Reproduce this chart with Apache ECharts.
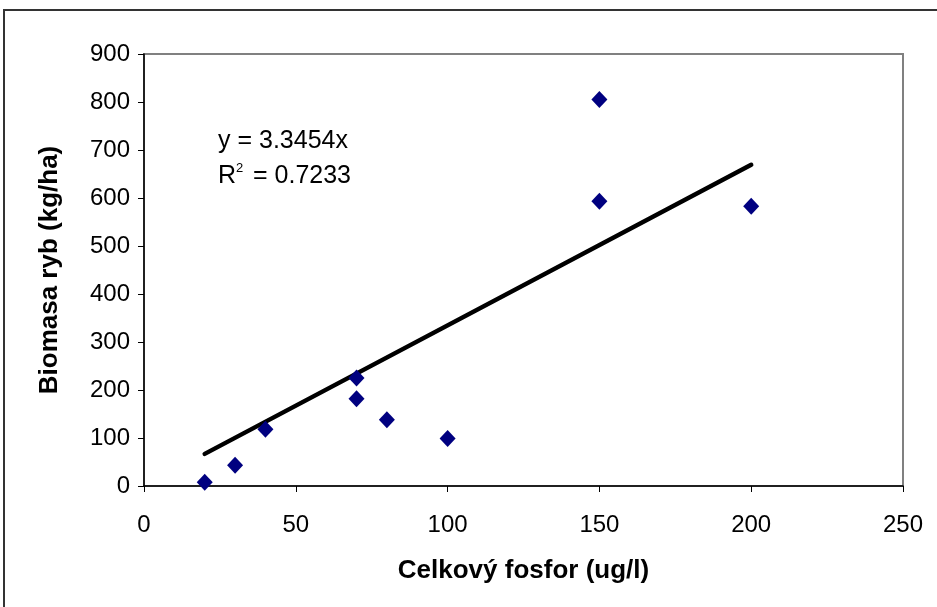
<!DOCTYPE html>
<html>
<head>
<meta charset="utf-8">
<script src="https://cdn.jsdelivr.net/npm/echarts@6/dist/echarts.min.js"></script>
<style>
html,body{margin:0;padding:0;background:#fff;}
#c{width:937px;height:607px;}
</style>
</head>
<body>
<div id="c"></div>
<script>
const xValues = [20, 30, 40, 70, 70, 80, 100, 150, 150, 200];
const yValues = [8, 43, 118, 225, 182, 138, 99, 805, 593, 583];
const trendSlope = 3.3454;
const trendRange = [20, 200];
const equationLine1 = 'y = 3.3454x';
const r2Base = 'R';
const r2Sup = '2';
const r2Value = '= 0.7233';
const xAxisName = 'Celkový fosfor (ug/l)';
const yAxisName = 'Biomasa ryb (kg/ha)';

const points = xValues.map((x, i) => [x, yValues[i]]);
const trend = trendRange.map(x => [x, trendSlope * x]);

const chart = echarts.init(document.getElementById('c'));
const font = 'Liberation Sans, Arial, sans-serif';
chart.setOption({
  animation: false,
  backgroundColor: '#fff',
  grid: {left: 144, top: 54, right: 34, bottom: 121, show: true, borderColor: '#808080', borderWidth: 2, backgroundColor: 'transparent'},
  xAxis: {
    type: 'value', min: 0, max: 250, interval: 50,
    name: xAxisName, nameLocation: 'middle', nameGap: 72,
    nameTextStyle: {fontFamily: font, fontSize: 26, fontWeight: 'bold', color: '#000'},
    axisLine: {show: true, lineStyle: {color: '#000', width: 1.5}},
    axisTick: {show: true, length: 6, lineStyle: {color: '#000'}},
    axisLabel: {fontFamily: font, fontSize: 24, color: '#000', margin: 27},
    splitLine: {show: false}
  },
  yAxis: {
    type: 'value', min: 0, max: 900, interval: 100,
    name: yAxisName, nameLocation: 'middle', nameGap: 81, nameRotate: 90,
    nameTextStyle: {fontFamily: font, fontSize: 26, fontWeight: 'bold', color: '#000'},
    axisLine: {show: true, lineStyle: {color: '#000', width: 1.5}},
    axisTick: {show: true, length: 6, lineStyle: {color: '#000'}},
    axisLabel: {fontFamily: font, fontSize: 24, color: '#000', margin: 14},
    splitLine: {show: false}
  },
  graphic: [
    {type: 'rect', shape: {x: 4, y: 10, width: 940, height: 620}, style: {fill: 'none', stroke: '#333', lineWidth: 2}, z: 100, silent: true},
    {type: 'text', x: 218, y: 141, style: {text: equationLine1, fontFamily: font, fontSize: 25, fill: '#000', verticalAlign: 'middle'}, z: 50},
    {type: 'text', x: 218, y: 176, style: {text: r2Base, fontFamily: font, fontSize: 25, fill: '#000', verticalAlign: 'middle'}, z: 50},
    {type: 'text', x: 236, y: 168, style: {text: r2Sup, fontFamily: font, fontSize: 13, fill: '#000', verticalAlign: 'middle'}, z: 50},
    {type: 'text', x: 253, y: 176, style: {text: r2Value, fontFamily: font, fontSize: 25, fill: '#000', verticalAlign: 'middle'}, z: 50}
  ],
  series: [
    {type: 'line', data: trend, symbol: 'none', lineStyle: {color: '#000', width: 4.5, cap: 'round'}, z: 2, silent: true},
    {type: 'scatter', data: points, symbol: 'diamond', symbolSize: [16, 17], itemStyle: {color: '#000080', opacity: 1}, z: 3}
  ]
});
</script>
</body>
</html>
